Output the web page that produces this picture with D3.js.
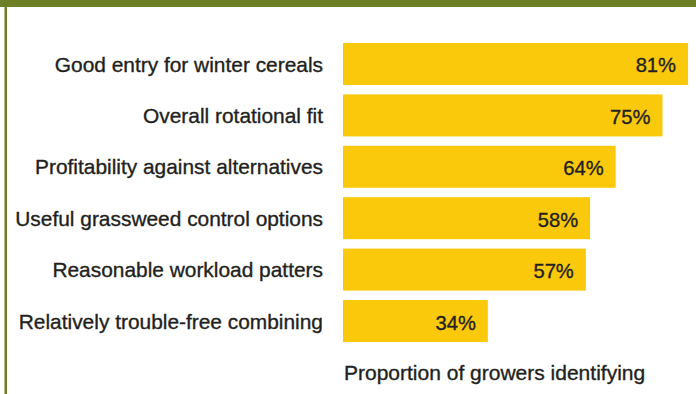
<!DOCTYPE html>
<html>
<head>
<meta charset="utf-8">
<script src="https://cdn.jsdelivr.net/npm/d3@7"></script>
<style>
  html, body { margin: 0; padding: 0; background: #fff; }
  svg { display: block; }
  text { font-family: "Liberation Sans", Arial, Helvetica, sans-serif; fill: #231f20; stroke: #231f20; stroke-width: 0.35px; }
</style>
</head>
<body>
<svg id="chart" width="696" height="394"></svg>
<script>
// Survey answers, top to bottom
const categories = [
  "Good entry for winter cereals",
  "Overall rotational fit",
  "Profitability against alternatives",
  "Useful grassweed control options",
  "Reasonable workload patters",
  "Relatively trouble-free combining"
];
const values = [81, 75, 64, 58, 57, 34];
const axisTitle = "Proportion of growers identifying";

const data = categories.map((c, i) => ({ category: c, value: values[i] }));

const W = 696, H = 394;
const svg = d3.select("#chart");

// Frame: olive band across the top and a rule down the left side
const frameColor = "#6c7f24";
svg.append("rect").attr("x", 0).attr("y", 0).attr("width", W).attr("height", 7).attr("fill", frameColor);
svg.append("rect").attr("x", 4.5).attr("y", 0).attr("width", 2.5).attr("height", H).attr("fill", frameColor);

const x = d3.scaleLinear().domain([0, 100]).range([343, 769]);
const y = d3.scaleBand().domain(categories).range([43, 342]).paddingInner(0.183).paddingOuter(0);

// Bars
svg.append("g").selectAll("rect")
  .data(data)
  .join("rect")
  .attr("x", x(0))
  .attr("y", d => y(d.category))
  .attr("width", d => x(d.value) - x(0))
  .attr("height", y.bandwidth())
  .attr("fill", "#fbc90b");

// Category labels
const yAxis = svg.append("g")
  .attr("transform", `translate(${x(0)},0)`)
  .call(d3.axisLeft(y).tickSize(0).tickPadding(20));
yAxis.select(".domain").remove();
yAxis.selectAll("text")
  .attr("font-size", 20.9)
  .attr("dy", "0.36em")
  .style("font-family", "'Liberation Sans', Arial, sans-serif")
  .attr("fill", "#231f20");

// Value labels inside bar ends
svg.append("g").selectAll("text")
  .data(data)
  .join("text")
  .attr("x", d => x(d.value) - 12)
  .attr("y", d => y(d.category) + y.bandwidth() / 2 + 8.5)
  .attr("text-anchor", "end")
  .attr("font-size", 20.2)
  .text(d => d.value + "%");

// Axis title
svg.append("text")
  .attr("x", 344)
  .attr("y", 380)
  .attr("font-size", 21)
  .text(axisTitle);
</script>
</body>
</html>
